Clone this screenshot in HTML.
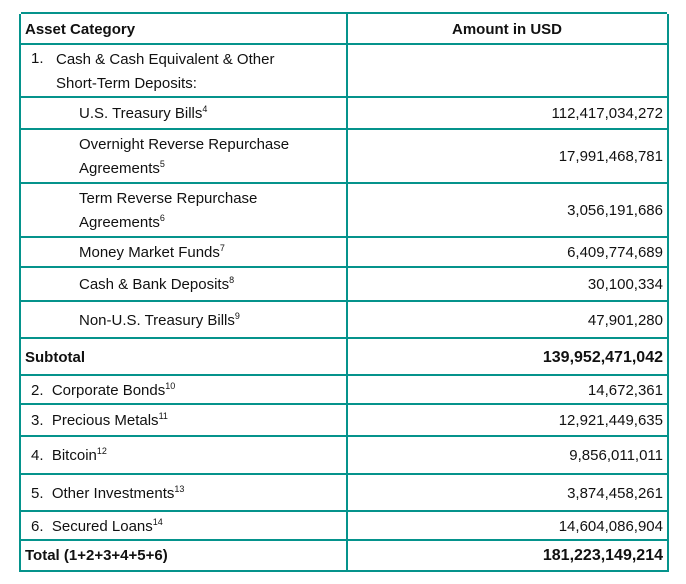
<!DOCTYPE html>
<html><head><meta charset="utf-8"><style>
body{margin:0;width:686px;height:584px;background:#fff;font-family:"Liberation Sans",sans-serif;color:#111;}
.t{position:absolute;left:19px;top:14px;width:650px;}
.r{position:absolute;left:0;right:0;border-top:2px solid #05938c;box-sizing:border-box;}
.c{position:absolute;top:0;bottom:0;display:flex;align-items:center;font-size:15px;line-height:24px;}
.l{left:4px;width:320px}
.v{right:4px;justify-content:flex-end;}
sup{font-size:9px;line-height:0;vertical-align:6px}
b{font-weight:bold}
</style></head><body>
<div class="t" style="height:558px;border-left:2px solid #05938c;border-right:2px solid #05938c;border-bottom:2px solid #05938c;box-sizing:border-box;">
<div style="position:absolute;left:325px;top:0;bottom:0;border-left:2px solid #05938c"></div>
<div class="r" style="top:-2px;height:33px"><div class="c l"><b>Asset Category</b></div><div class="c" style="left:326px;right:0;justify-content:center"><b>Amount in USD</b></div></div>
<div class="r" style="top:29px;height:55px"><div class="c l" style="left:10px"><span style="width:25px;display:inline-block;align-self:flex-start;margin-top:2px">1.</span><span>Cash &amp; Cash Equivalent &amp; Other<br>Short-Term Deposits:</span></div></div>
<div class="r" style="top:82px;height:33px"><div class="c l" style="left:58px"><span>U.S. Treasury Bills<sup>4</sup></span></div><div class="c v">112,417,034,272</div></div>
<div class="r" style="top:114px;height:55px"><div class="c l" style="left:58px"><span>Overnight Reverse Repurchase<br>Agreements<sup>5</sup></span></div><div class="c v">17,991,468,781</div></div>
<div class="r" style="top:168px;height:55px"><div class="c l" style="left:58px"><span>Term Reverse Repurchase<br>Agreements<sup>6</sup></span></div><div class="c v">3,056,191,686</div></div>
<div class="r" style="top:222px;height:32px"><div class="c l" style="left:58px"><span>Money Market Funds<sup>7</sup></span></div><div class="c v">6,409,774,689</div></div>
<div class="r" style="top:252px;height:36px"><div class="c l" style="left:58px"><span>Cash &amp; Bank Deposits<sup>8</sup></span></div><div class="c v">30,100,334</div></div>
<div class="r" style="top:286px;height:39px"><div class="c l" style="left:58px"><span>Non-U.S. Treasury Bills<sup>9</sup></span></div><div class="c v">47,901,280</div></div>
<div class="r" style="top:323px;height:39px"><div class="c l"><b>Subtotal</b></div><div class="c v"><b style="font-size:16px">139,952,471,042</b></div></div>
<div class="r" style="top:360px;height:31px"><div class="c l" style="left:10px"><span>2.&nbsp; Corporate Bonds<sup>10</sup></span></div><div class="c v">14,672,361</div></div>
<div class="r" style="top:389px;height:34px"><div class="c l" style="left:10px"><span>3.&nbsp; Precious Metals<sup>11</sup></span></div><div class="c v">12,921,449,635</div></div>
<div class="r" style="top:421px;height:40px"><div class="c l" style="left:10px"><span>4.&nbsp; Bitcoin<sup>12</sup></span></div><div class="c v">9,856,011,011</div></div>
<div class="r" style="top:459px;height:39px"><div class="c l" style="left:10px"><span>5.&nbsp; Other Investments<sup>13</sup></span></div><div class="c v">3,874,458,261</div></div>
<div class="r" style="top:496px;height:31px"><div class="c l" style="left:10px"><span>6.&nbsp; Secured Loans<sup>14</sup></span></div><div class="c v">14,604,086,904</div></div>
<div class="r" style="top:525px;height:31px"><div class="c l"><b>Total (1+2+3+4+5+6)</b></div><div class="c v"><b style="font-size:16px">181,223,149,214</b></div></div>
</div>
</body></html>
